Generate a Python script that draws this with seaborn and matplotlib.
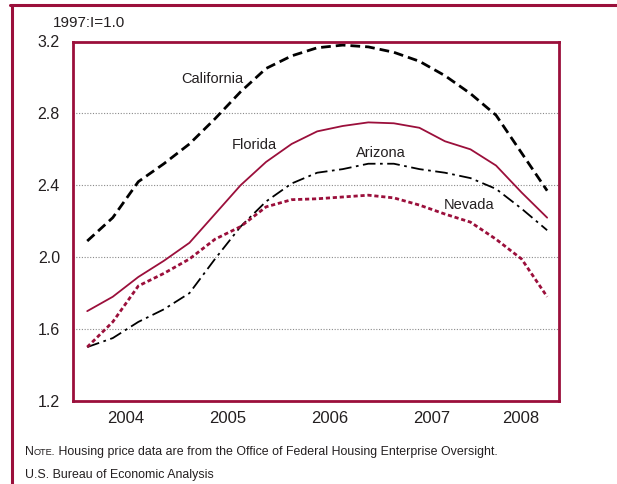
import matplotlib
matplotlib.use("Agg")
import matplotlib.pyplot as plt
from matplotlib.lines import Line2D
from matplotlib.transforms import blended_transform_factory
import seaborn as sns
import numpy as np

# quarterly house price index, 1997:I = 1.0
quarters = ["2004Q1", "2004Q2", "2004Q3", "2004Q4",
            "2005Q1", "2005Q2", "2005Q3", "2005Q4",
            "2006Q1", "2006Q2", "2006Q3", "2006Q4",
            "2007Q1", "2007Q2", "2007Q3", "2007Q4",
            "2008Q1", "2008Q2", "2008Q3"]
california = [2.09, 2.22, 2.42, 2.52, 2.63, 2.77, 2.92, 3.05, 3.12, 3.165,
              3.18, 3.17, 3.14, 3.09, 3.01, 2.91, 2.79, 2.58, 2.37]
florida = [1.70, 1.78, 1.89, 1.98, 2.08, 2.24, 2.40, 2.53, 2.63, 2.70,
           2.73, 2.75, 2.745, 2.72, 2.645, 2.60, 2.51, 2.36, 2.22]
arizona = [1.50, 1.55, 1.64, 1.71, 1.80, 1.99, 2.17, 2.31, 2.41, 2.47,
           2.49, 2.52, 2.52, 2.49, 2.47, 2.44, 2.38, 2.27, 2.15]
nevada = [1.50, 1.64, 1.84, 1.91, 1.99, 2.10, 2.17, 2.28, 2.32, 2.325,
          2.335, 2.345, 2.33, 2.29, 2.24, 2.195, 2.10, 1.99, 1.78]

year_labels = ["2004", "2005", "2006", "2007", "2008"]
y_ticks = [1.2, 1.6, 2.0, 2.4, 2.8, 3.2]

crimson = "#9b0f3b"
ink = "#231f20"

sns.set_style("white")
plt.rcParams["font.family"] = ["Liberation Sans", "DejaVu Sans"]

# quarter midpoints as decimal years
x = [int(q[:4]) + (int(q[-1]) - 0.5) / 4 for q in quarters]

W, H = 617, 484
fig = plt.figure(figsize=(W / 100, H / 100), dpi=100)
ax = fig.add_axes([72.5 / W, 1 - 401 / H, (559 - 72.5) / W, (401 - 41.5) / H])

sns.lineplot(x=x, y=california, ax=ax, color="black", linewidth=2.0,
             linestyle=(0, (3.5, 1.8)))
sns.lineplot(x=x, y=florida, ax=ax, color=crimson, linewidth=1.3)
sns.lineplot(x=x, y=arizona, ax=ax, color="black", linewidth=1.3,
             linestyle=(0, (7, 2.5, 1.5, 2.5)))
sns.lineplot(x=x, y=nevada, ax=ax, color=crimson, linewidth=2.0,
             linestyle=(0, (1.5, 1.0)))

ax.set_xlim(2003.981, 2008.741)
ax.set_ylim(1.2, 3.2)

# y axis
ax.set_yticks(y_ticks)
ax.set_yticklabels([f"{v:.1f}" for v in y_ticks])
ax.tick_params(axis="y", length=0, pad=9, labelsize=11.5, labelcolor=ink)
for v in y_ticks[1:-1]:
    ax.axhline(v, color="#8a8a8a", linewidth=0.8, linestyle=(0, (1, 1.5)), zorder=0)

# x axis: long ticks at year boundaries, short ticks at quarters
years = [int(s) for s in year_labels]
ax.set_xticks(years[1:])
ax.set_xticks([y + q / 4 for y in years for q in (1, 2, 3) if y + q / 4 < 2008.7],
              minor=True)
ax.set_xticklabels([])
ax.tick_params(axis="x", which="major", direction="in", length=21, width=1,
               color="#333333", labelbottom=False)
ax.tick_params(axis="x", which="minor", direction="in", length=10, width=1,
               color="#333333", labelbottom=False)
trans = blended_transform_factory(ax.transData, ax.transAxes)
lo, hi = ax.get_xlim()
for s in year_labels:
    y0 = int(s)
    mid = (max(y0, lo) + min(y0 + 1, hi)) / 2
    ax.text(mid, -0.027, s, transform=trans, ha="center", va="top",
            fontsize=12, color=ink)

for side in ax.spines.values():
    side.set_color(crimson)
    side.set_linewidth(2.0)
ax.set_xlabel("")
ax.set_ylabel("")

# series labels
ax.text(2005.346, 2.991, "California", ha="center", va="center", fontsize=10.5, color=ink)
ax.text(2005.762, 2.624, "Florida", ha="center", va="center", fontsize=10.5, color=ink)
ax.text(2007.0, 2.580, "Arizona", ha="center", va="center", fontsize=10.5, color=ink)
ax.text(2007.86, 2.290, "Nevada", ha="center", va="center", fontsize=10.5, color=ink)

# unit label and notes
fig.text(53 / W, 1 - 23 / H, "1997:I=1.0", ha="left", va="center",
         fontsize=11, color=ink)

# "NOTE." in small caps, then the note itself, all on one baseline
renderer = fig.canvas.get_renderer()
base = 1 - 455 / H
cursor = 25.0
for piece, size in [("N", 8.9), ("OTE.", 6.7),
                    (" Housing price data are from the Office of Federal Housing Enterprise Oversight.", 8.9)]:
    t = fig.text(cursor / W, base, piece, ha="left", va="baseline",
                 fontsize=size, color=ink)
    cursor = t.get_window_extent(renderer).x1
fig.text(25 / W, 1 - 478 / H, "U.S. Bureau of Economic Analysis",
         ha="left", va="baseline", fontsize=8.9, color=ink)

# outer frame (open to the right and bottom)
fig.add_artist(Line2D([10 / W, 1], [1 - 5.3 / H, 1 - 5.3 / H],
                      transform=fig.transFigure, color=crimson, linewidth=2.2))
fig.add_artist(Line2D([11.5 / W, 11.5 / W], [0, 1 - 5.3 / H],
                      transform=fig.transFigure, color=crimson, linewidth=2.2))

fig.savefig("out.png", dpi=100)
